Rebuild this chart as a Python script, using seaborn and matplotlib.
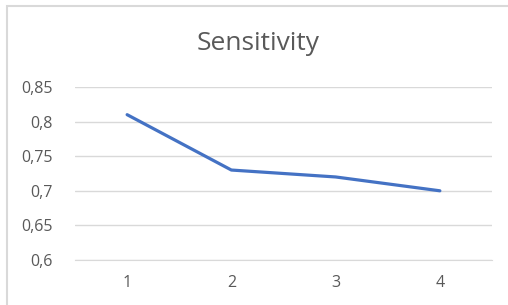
import seaborn as sns
import matplotlib.pyplot as plt
from matplotlib.patches import Rectangle
from matplotlib.ticker import FuncFormatter
import pandas as pd

# data
runs = ['1', '2', '3', '4']
sensitivity = [0.81, 0.73, 0.72, 0.70]
y_ticks = [0.6, 0.65, 0.7, 0.75, 0.8, 0.85]

df = pd.DataFrame({'run': runs, 'sensitivity': sensitivity})

sns.set_style('white')
plt.rcParams['font.family'] = ['Open Sans', 'DejaVu Sans']

fig = plt.figure(figsize=(5.08, 3.05), dpi=100)
ax = fig.add_axes([75 / 508, 1 - 260 / 305, 417 / 508, 173 / 305])

sns.lineplot(data=df, x='run', y='sensitivity', color='#4472C4',
             linewidth=2.3, sort=False, ax=ax)

ax.set_xlim(-0.5, len(runs) - 0.5)
ax.set_ylim(0.6, 0.85)
ax.set_yticks(y_ticks)
ax.yaxis.set_major_formatter(FuncFormatter(lambda v, p: f'{v:g}'.replace('.', ',')))
ax.grid(axis='y', color='#d9d9d9', linewidth=1)
ax.set_axisbelow(True)
for s in ['top', 'right', 'left']:
    ax.spines[s].set_visible(False)
ax.spines['bottom'].set_color('#d9d9d9')
ax.tick_params(axis='both', length=0, labelsize=11.5, labelcolor='#595959')
ax.tick_params(axis='x', pad=11)
ax.tick_params(axis='y', pad=16)
ax.set_xlabel('')
ax.set_ylabel('')

fig.text(0.508, 1 - 44 / 305, 'Sensitivity', ha='center', va='center',
         fontsize=19, color='#595959')

# chart border like the spreadsheet frame
fig.patches.append(Rectangle((7 / 508, -0.05), 1.1, 1.05 - 6 / 305,
                             transform=fig.transFigure, fill=False,
                             edgecolor='#d9d9d9', linewidth=1.5))

plt.savefig('out.png', dpi=100)
